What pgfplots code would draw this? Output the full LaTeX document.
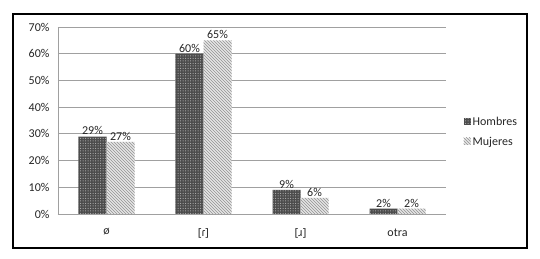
\documentclass[border=0pt]{standalone}
\usepackage{pgfplots}
\pgfplotsset{compat=1.18}
\usepackage{fontspec}
\setmainfont{Carlito}
\newfontfamily\ipafont{Noto Sans}
\usetikzlibrary{patterns}
\pgfdeclarepatternformonly{finedots}{\pgfqpoint{-0.6pt}{-0.6pt}}{\pgfqpoint{1.9pt}{1.9pt}}{\pgfqpoint{2.5pt}{2.5pt}}{\pgfpathcircle{\pgfqpoint{0.6pt}{0.6pt}}{0.6pt}\pgfusepath{fill}}
\definecolor{gridc}{RGB}{160,160,160}
\begin{document}
\begin{tikzpicture}[x=1pt,y=1pt]
\path[fill=white] (0,0) rectangle (540,259);
\draw[line width=1.2pt] (13,11) rectangle (527,245);
\begin{axis}[
  at={(58pt,45pt)}, anchor=south west,
  scale only axis, width=388pt, height=187pt,
  ybar=0pt, bar width=28pt,
  xmin=-0.5, xmax=3.5, ymin=0, ymax=70,
  xtick={0,1,2,3},
  xticklabels={ø,{\ipafont\fontsize{11}{13}\selectfont [ɾ]},{\ipafont\fontsize{11}{13}\selectfont [ɹ]},otra},
  ytick={0,10,...,70},
  yticklabel={\pgfmathprintnumber{\tick}\%},
  /pgf/number format/assume math mode=true,
  ymajorgrids, grid style={gridc, line width=0.8pt},
  axis x line*=bottom, axis y line*=left,
  axis line style={gridc, line width=0.8pt, -},
  major tick length=0pt,
  tick label style={font=\fontsize{12}{14}\selectfont, text=black!85},
  xticklabel style={yshift=-11pt},
  yticklabel style={xshift=-5pt},
  nodes near coords={\pgfmathprintnumber{\pgfplotspointmeta}\%},
  every node near coord/.append style={font=\fontsize{12}{14}\selectfont, text=black!85, yshift=-2pt},
  legend style={at={(1.045,0.44)}, anchor=west, draw=none, fill=none,
    font=\fontsize{12}{14}\selectfont, text=black!85, row sep=6pt,
    inner sep=0pt, cells={anchor=west}},
  legend image code/.code={\fill[#1] (0pt,-3pt) rectangle (7pt,4pt);},
  clip=false,
]
\addplot[draw=none, fill=black!70, postaction={pattern=finedots, pattern color=gray!60}]
  coordinates {(0,29) (1,60) (2,9) (3,2)};
\addplot[draw=none, fill=gray!20, postaction={pattern=north west lines, pattern color=gray!85}]
  coordinates {(0,27) (1,65) (2,6) (3,2)};
\legend{Hombres, Mujeres}
\end{axis}
\end{tikzpicture}
\end{document}
